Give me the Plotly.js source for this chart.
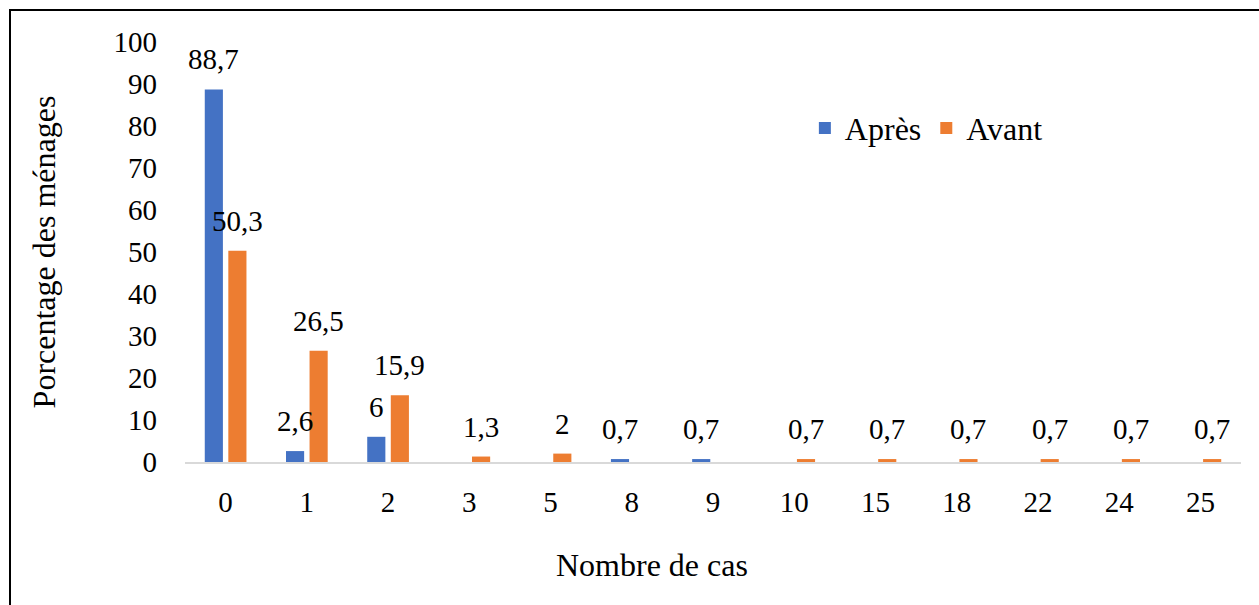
<!DOCTYPE html>
<html>
<head>
<meta charset="utf-8">
<script src="https://cdn.plot.ly/plotly-3.0.1.min.js"></script>
<style>
html,body{margin:0;padding:0;background:#fff;overflow:hidden;}
#frame{position:absolute;left:9px;top:9px;width:1400px;height:800px;border:2px solid #000;box-sizing:border-box;}
#chart{position:absolute;left:0;top:0;width:1259px;height:605px;}
</style>
</head>
<body>
<div id="frame"></div>
<div id="chart"></div>
<script>
const categories = ["0","1","2","3","5","8","9","10","15","18","22","24","25"];
const apres = [88.7, 2.6, 6, 0, 0, 0.7, 0.7, 0, 0, 0, 0, 0, 0];
const avant = [50.3, 26.5, 15.9, 1.3, 2, 0, 0, 0.7, 0.7, 0.7, 0.7, 0.7, 0.7];
const seriesNames = ["Après", "Avant"];
const xTitle = 'Nombre de cas';
const yTitle = 'Porcentage des ménages';

const fmt = v => String(v).replace('.', ',');
const font = "Liberation Serif, Times New Roman, serif";
const numSize = 29, txtSize = 32;
const colors = ['#4472C4', '#ED7D31'];

const traces = [apres, avant].map((vals, k) => ({
  type:'bar', name:seriesNames[k], x:categories, y:vals,
  marker:{color:colors[k]}, hoverinfo:'skip'
}));

// data labels above each bar, positioned through the axes (category index, value)
const L = 185, R = 18, W = 1259;
const catW = (W - L - R) / categories.length;
const bargap = 0.42, bargroupgap = 0.23;
const slot = catW * (1 - bargap) / 2;
const annotations = [];
[apres, avant].forEach((vals, k) => {
  vals.forEach((v, i) => {
    if (v > 0) annotations.push({
      x: i, y: v, xref:'x', yref:'y',
      xshift: (k === 0 ? -1 : 1) * slot / 2,
      yanchor:'bottom', yshift: 12, showarrow:false,
      text: fmt(v), font:{family:font, size:numSize, color:'#000'}
    });
  });
});
annotations.push({
  xref:'paper', yref:'paper', x:0.442, y:-0.245, xanchor:'center', yanchor:'middle',
  showarrow:false, text:xTitle, font:{family:font, size:txtSize, color:'#000'}
});

const layout = {
  width:1259, height:605,
  paper_bgcolor:'rgba(0,0,0,0)', plot_bgcolor:'rgba(0,0,0,0)',
  margin:{l:L, r:R, t:42, b:143},
  barmode:'group', bargap:bargap, bargroupgap:bargroupgap,
  font:{family:font, size:numSize, color:'#000'},
  showlegend:true,
  legend:{orientation:'h', x:0.587, y:0.795, xanchor:'left', yanchor:'middle',
          font:{family:font,size:txtSize,color:'#000'}, bgcolor:'rgba(0,0,0,0)',
          itemwidth:30, tracegroupgap:0},
  xaxis:{type:'category', range:[-0.5, categories.length - 0.5], autorange:false,
         showgrid:false, zeroline:false, showline:true,
         linecolor:'#D9D9D9', linewidth:2, ticks:'', ticklabelstandoff:13,
         tickfont:{family:font,size:numSize,color:'#000'}},
  yaxis:{range:[0,100], dtick:10, showgrid:false, zeroline:false, showline:false,
         ticks:'', ticklabelstandoff:27,
         tickfont:{family:font,size:numSize,color:'#000'},
         title:{text:yTitle, font:{family:font,size:txtSize,color:'#000'}, standoff:48}},
  annotations: annotations
};

Plotly.newPlot('chart', traces, layout, {staticPlot:true, displayModeBar:false});
</script>
</body>
</html>
